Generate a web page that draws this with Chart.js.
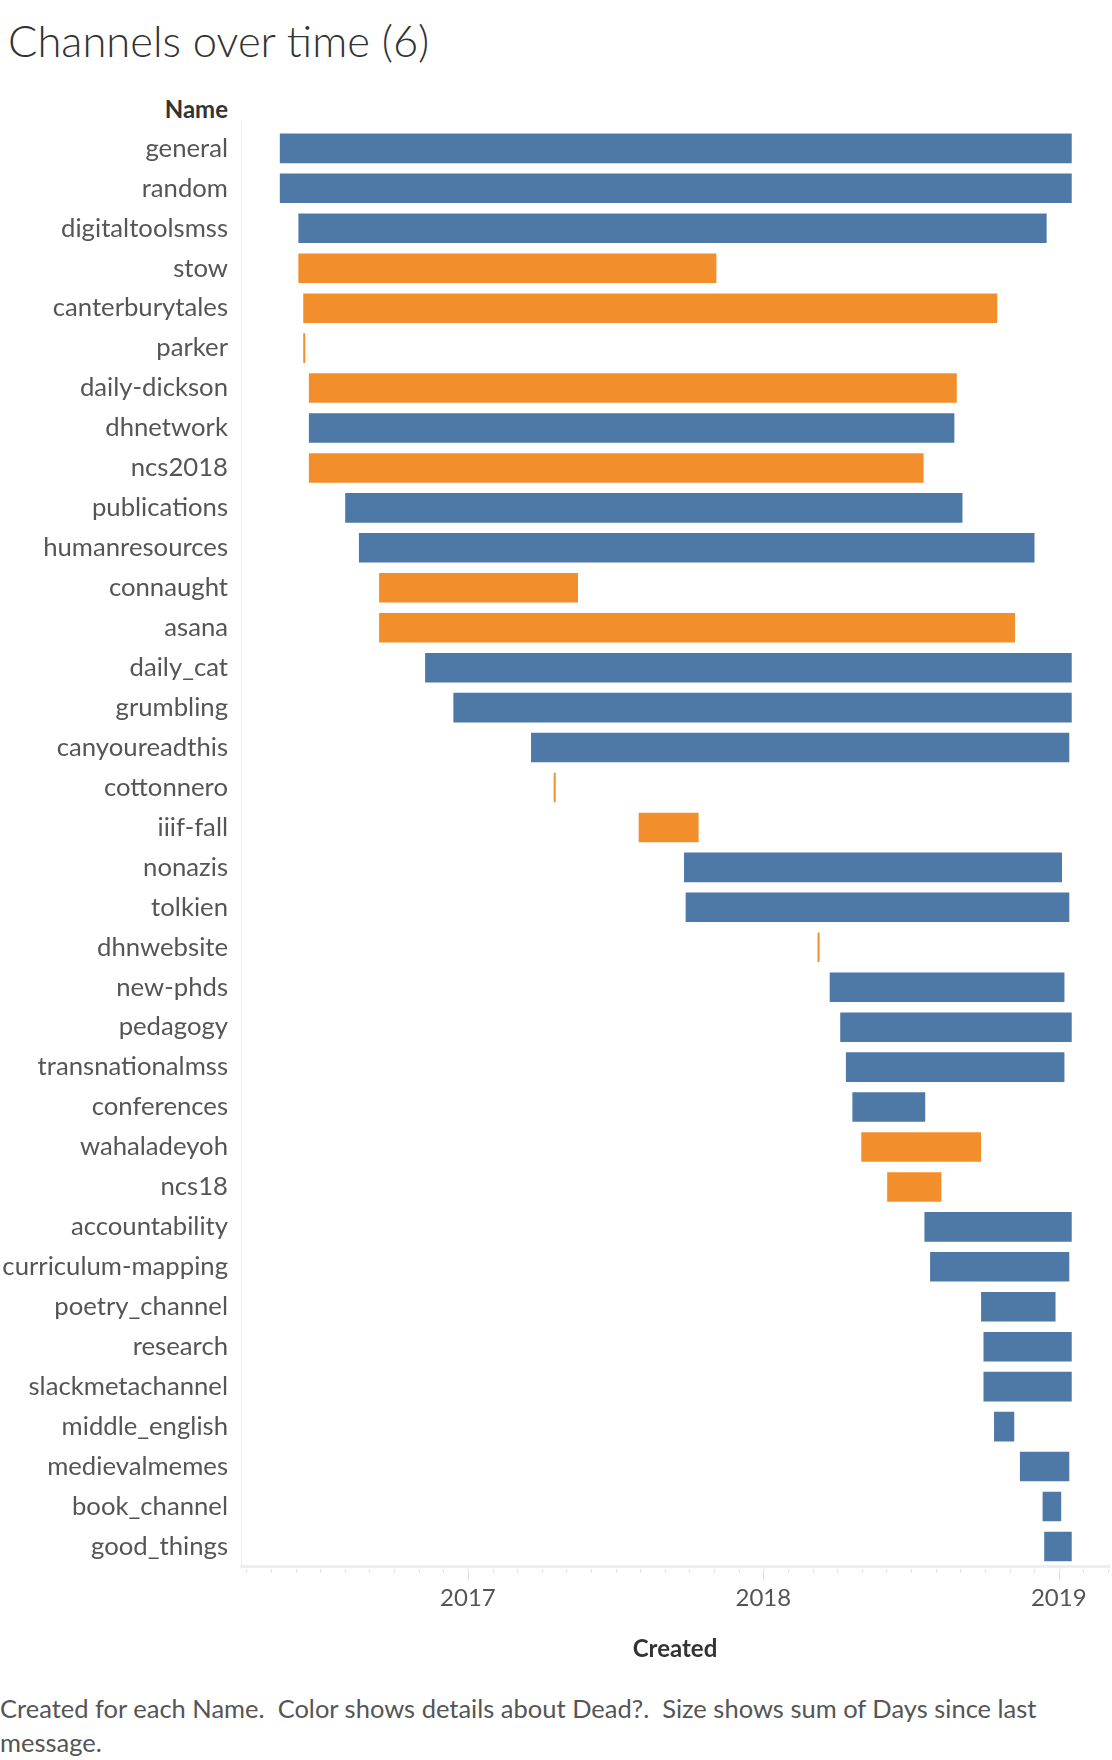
<!DOCTYPE html>
<html><head><meta charset="utf-8">
<script src="https://cdn.jsdelivr.net/npm/chart.js@4.4.0/dist/chart.umd.min.js"></script>
<style>
html,body{margin:0;padding:0;background:#fff;width:1112px;height:1760px;overflow:hidden;font-family:Lato,"Open Sans",sans-serif;}
#title{position:absolute;left:8px;top:17px;font-size:43.5px;font-weight:300;color:#333;white-space:nowrap;line-height:1.1}
#namehdr{position:absolute;right:884px;top:96px;font-size:24px;font-weight:bold;color:#333;line-height:1.1}
#wrap{position:absolute;left:0;top:100px;width:1112px;height:1586px}
#caption{position:absolute;left:0;top:1691px;font-size:25.5px;color:#555;line-height:34px;white-space:nowrap}
</style>
</head><body>
<div id="title">Channels over time (6)</div>
<div id="namehdr">Name</div>
<div id="wrap"><canvas id="c"></canvas></div>
<div id="caption">Created for each Name.&nbsp; Color shows details about Dead?.&nbsp; Size shows sum of Days since last<br>message.</div>
<script>
const names = ['general','random','digitaltoolsmss','stow','canterburytales','parker','daily-dickson','dhnetwork','ncs2018','publications','humanresources','connaught','asana','daily_cat','grumbling','canyoureadthis','cottonnero','iiif-fall','nonazis','tolkien','dhnwebsite','new-phds','pedagogy','transnationalmss','conferences','wahaladeyoh','ncs18','accountability','curriculum-mapping','poetry_channel','research','slackmetachannel','middle_english','medievalmemes','book_channel','good_things'];
const created = ['2016-05-13','2016-05-13','2016-06-05','2016-06-05','2016-06-11','2016-06-11','2016-06-18','2016-06-18','2016-06-18','2016-08-02','2016-08-19','2016-09-13','2016-09-13','2016-11-09','2016-12-14','2017-03-20','2017-04-17','2017-07-31','2017-09-25','2017-09-27','2018-03-09','2018-03-24','2018-04-06','2018-04-13','2018-04-21','2018-05-02','2018-06-03','2018-07-19','2018-07-26','2018-09-27','2018-09-30','2018-09-30','2018-10-13','2018-11-14','2018-12-12','2018-12-14'];
const lastMessage = ['2019-01-17','2019-01-17','2018-12-17','2017-11-04','2018-10-17','2016-06-13','2018-08-28','2018-08-25','2018-07-18','2018-09-04','2018-12-02','2017-05-17','2018-11-08','2019-01-17','2019-01-17','2019-01-14','2017-04-19','2017-10-13','2019-01-05','2019-01-14','2018-03-11','2019-01-08','2019-01-17','2019-01-08','2018-07-20','2018-09-27','2018-08-09','2019-01-17','2019-01-14','2018-12-28','2019-01-17','2019-01-17','2018-11-07','2019-01-14','2019-01-04','2019-01-17'];
const dead = ['No','No','No','Yes','Yes','Yes','Yes','No','Yes','No','No','Yes','Yes','No','No','No','Yes','Yes','No','No','Yes','No','No','No','No','Yes','Yes','No','No','No','No','No','No','No','No','No'];
const yearTicks = [2017, 2018, 2019];
const axisMin = 2016.232, axisMax = 2019.17;
const colorMap = {No:'#4e79a7', Yes:'#f28e2b'};

function toYear(s){
  const d = Date.parse(s + 'T00:00:00Z');
  const y = new Date(d).getUTCFullYear();
  const a = Date.UTC(y,0,1), b = Date.UTC(y+1,0,1);
  return y + (d - a) / (b - a);
}

const monthTicks = {
  id:'monthTicks',
  afterDraw(chart){
    const xs = chart.scales.x, ca = chart.chartArea, ctx = chart.ctx;
    ctx.save();
    ctx.strokeStyle = '#eeeeee';
    ctx.lineWidth = 1;
    ctx.beginPath();
    ctx.moveTo(ca.left + 0.5, ca.top - 8);
    ctx.lineTo(ca.left + 0.5, ca.top);
    ctx.stroke();
    ctx.strokeStyle = '#dcdcdc';
    for(let y=2016; y<=2019; y++){
      for(let m=0; m<12; m++){
        const v = y + m/12;
        if (v < axisMin || v > axisMax) continue;
        const px = Math.round(xs.getPixelForValue(v)) + 0.5;
        ctx.beginPath();
        ctx.moveTo(px, ca.bottom + 3);
        ctx.lineTo(px, ca.bottom + (m === 0 ? 14 : 6));
        ctx.stroke();
      }
    }
    ctx.restore();
  }
};

new Chart(document.getElementById('c'), {
  type:'bar',
  data:{
    labels:names,
    datasets:[{
      data:names.map((n,i)=>[toYear(created[i]), toYear(lastMessage[i])]),
      backgroundColor:dead.map(d=>colorMap[d]),
      borderSkipped:false,
      borderWidth:0,
      barPercentage:0.74,
      categoryPercentage:1,
      minBarLength:2
    }]
  },
  options:{
    indexAxis:'y',
    responsive:true,
    maintainAspectRatio:false,
    animation:false,
    devicePixelRatio:1,
    layout:{padding:{left:0,right:3,top:17,bottom:18}},
    plugins:{legend:{display:false},tooltip:{enabled:false}},
    scales:{
      x:{
        type:'linear', min:axisMin, max:axisMax,
        afterBuildTicks(s){ s.ticks = yearTicks.map(v=>({value:v})); },
        grid:{display:false, drawTicks:false},
        border:{display:true, color:'#eeeeee', width:3},
        ticks:{font:{family:'Lato',size:24}, color:'#555', padding:17, maxRotation:0,
          callback:v=>String(v)},
        title:{display:true, text:'Created', font:{family:'Lato',size:24,weight:'bold'}, color:'#333', padding:{top:6,bottom:4}}
      },
      y:{
        type:'category',
        grid:{display:false, drawTicks:false},
        border:{display:true, color:'#eeeeee', width:1},
        afterFit(s){ s.width = 241; },
        ticks:{font:{family:'Lato',size:25.7}, color:'#555', padding:13, autoSkip:false}
      }
    }
  },
  plugins:[monthTicks]
});
</script>
</body></html>
